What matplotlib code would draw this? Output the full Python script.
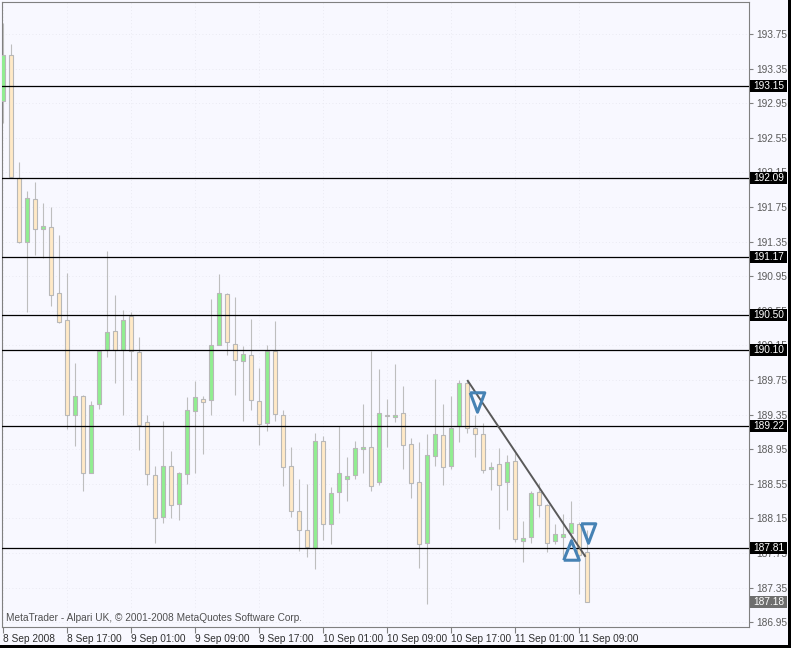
import matplotlib
matplotlib.use('Agg')
import matplotlib.pyplot as plt
from matplotlib.patches import Rectangle

plt.rcParams['font.family'] = ['Liberation Sans', 'DejaVu Sans']

# hourly GBPJPY-like bars, 8 Sep 2008 09:00 .. 11 Sep 2008 10:00
opens = [192.97, 193.51, 192.08, 191.35, 191.84, 191.50, 191.52, 190.75, 190.44, 189.34,
         189.57, 188.68, 189.47, 190.10, 190.32, 190.10, 190.49, 190.07, 189.26, 188.65,
         188.16, 188.76, 188.32, 188.66, 189.39, 189.53, 189.52, 190.16, 190.74, 190.17,
         189.97, 190.04, 189.51, 189.25, 190.09, 189.34, 188.75, 188.24, 188.01, 187.81,
         189.05, 188.09, 188.45, 188.60, 188.65, 188.95, 188.98, 188.57, 189.35, 189.32,
         189.37, 189.01, 188.57, 187.86, 188.87, 189.11, 188.75, 189.22, 189.71, 189.20,
         189.12, 188.72, 188.78, 188.57, 188.81, 187.89, 187.93, 188.45, 188.31, 187.89,
         187.93, 187.98, 188.09, 187.76]
highs = [193.88, 193.63, 192.27, 191.93, 192.04, 191.80, 191.75, 191.43, 190.99, 189.95,
         189.58, 189.51, 190.10, 191.24, 190.73, 190.56, 190.54, 190.25, 189.35, 188.76,
         189.27, 188.93, 188.69, 189.55, 189.74, 189.56, 190.69, 190.98, 190.76, 190.71,
         190.14, 190.46, 189.89, 190.15, 190.43, 189.40, 188.98, 188.61, 188.55, 189.14,
         189.10, 188.51, 189.22, 188.86, 189.05, 189.47, 190.09, 189.88, 189.53, 189.94,
         189.68, 189.08, 189.03, 189.13, 189.76, 189.47, 189.56, 189.75, 189.74, 189.35,
         189.25, 188.80, 188.96, 188.88, 188.91, 188.12, 188.47, 188.56, 188.32, 188.08,
         188.20, 188.35, 188.11, 188.01]
lows = [192.72, 192.08, 191.33, 190.54, 191.20, 191.16, 190.61, 190.41, 189.18, 188.99,
        188.47, 188.67, 189.42, 190.01, 189.71, 189.34, 189.75, 188.94, 188.53, 187.87,
        188.10, 188.15, 188.13, 188.55, 188.68, 188.89, 189.35, 190.15, 190.04, 189.58,
        189.27, 189.40, 189.00, 189.16, 189.27, 188.52, 188.16, 187.77, 187.70, 187.56,
        187.90, 187.85, 188.21, 188.35, 188.61, 188.67, 188.47, 188.54, 188.97, 189.26,
        188.72, 188.39, 187.58, 187.16, 188.75, 188.54, 188.72, 189.03, 189.14, 188.86,
        188.67, 188.48, 188.03, 188.25, 187.88, 187.64, 187.86, 188.16, 187.76, 187.85,
        187.68, 187.90, 187.27, 187.18]
closes = [193.51, 192.10, 191.34, 191.85, 191.50, 191.53, 190.73, 190.42, 189.35, 189.57,
          188.68, 189.46, 190.09, 190.31, 190.10, 190.44, 190.09, 189.23, 188.66, 188.15,
          188.75, 188.31, 188.67, 189.40, 189.55, 189.49, 190.16, 190.75, 190.19, 189.98,
          190.05, 189.52, 189.24, 190.09, 189.36, 188.74, 188.23, 188.02, 187.82, 189.05,
          188.08, 188.44, 188.68, 188.64, 188.96, 188.98, 188.52, 189.37, 189.33, 189.35,
          189.00, 188.56, 187.85, 188.88, 189.12, 188.74, 189.20, 189.72, 189.19, 189.13,
          188.71, 188.74, 188.53, 188.80, 187.91, 187.92, 188.44, 188.31, 187.87, 187.97,
          187.97, 188.10, 187.73, 187.18]

time_ticks = [0, 8, 16, 24, 32, 40, 48, 56, 64, 72]
time_labels = ['8 Sep 2008', '8 Sep 17:00', '9 Sep 01:00', '9 Sep 09:00', '9 Sep 17:00',
               '10 Sep 01:00', '10 Sep 09:00', '10 Sep 17:00', '11 Sep 01:00', '11 Sep 09:00']
price_ticks = [186.95, 187.35, 187.75, 188.15, 188.55, 188.95, 189.35, 189.75, 190.15,
               190.55, 190.95, 191.35, 191.75, 192.15, 192.55, 192.95, 193.35, 193.75]

levels = [193.15, 192.09, 191.17, 190.50, 190.10, 189.22, 187.81]
last_price = 187.18

trend_x = [58.1, 72.75]
trend_y = [189.74, 187.715]
sell_x = [59.25, 73.1]
sell_y = [189.50, 187.98]
buy_x = [71.0]
buy_y = [187.785]

BG = '#F8F8FF'
fig = plt.figure(figsize=(7.91, 6.48), dpi=100, facecolor=BG)
ax = fig.add_axes([2 / 791, 21 / 648, 747 / 791, 625 / 648])
ax.set_facecolor(BG)

x = list(range(len(opens)))
body_col = ['#90EE90' if c >= o else '#FFE9C6' for o, c in zip(opens, closes)]
bottoms = [min(o, c) for o, c in zip(opens, closes)]
heights = [abs(c - o) for o, c in zip(opens, closes)]

ax.vlines(x, lows, highs, color='#BEBEBE', linewidth=0.8, zorder=2)
ax.bar(x, heights, bottom=bottoms, width=0.5, color=body_col,
       edgecolor='#B8B8B8', linewidth=0.8, zorder=3)

for lv in levels:
    ax.axhline(lv, color='black', linewidth=0.9, zorder=4)

ax.plot(trend_x, trend_y, color='#5A5A5A', linewidth=1.4, zorder=5)

down_tri = [(-0.75, 1), (0.75, 1), (0, -1), (-0.75, 1)]
up_tri = [(-0.8, -1), (0.8, -1), (0, 1), (-0.8, -1)]
ax.plot(sell_x, sell_y, linestyle='none', marker=down_tri, markersize=14,
        markerfacecolor='none', markeredgecolor='#4682B4', markeredgewidth=2.2, zorder=6)
ax.plot(buy_x, buy_y, linestyle='none', marker=up_tri, markersize=14,
        markerfacecolor='none', markeredgecolor='#4682B4', markeredgewidth=2.2, zorder=6)

ax.set_xlim(-0.125, 93.25)
ax.set_ylim(186.894, 194.12)

ax.set_xticks(time_ticks)
ax.set_xticklabels(time_labels, ha='left')
ax.yaxis.tick_right()
ax.set_yticks(price_ticks)
ax.set_yticklabels(['%.2f' % p for p in price_ticks])
ax.tick_params(axis='x', direction='out', length=4, width=0.8, colors='#808080',
               labelcolor='#303030', labelsize=7.3, pad=1)
ax.tick_params(axis='y', direction='out', length=3, width=0.8, colors='#808080',
               labelcolor='#5A5A5A', labelsize=7.3, pad=2)

ax.grid(True, color='#E6E6EE', linestyle=(0, (1, 3)), linewidth=0.6, zorder=0)
for sp in ax.spines.values():
    sp.set_color('#808080')
    sp.set_linewidth(0.8)

# price label boxes on the right scale
trans = ax.get_yaxis_transform()
bw = 37 / 747
bh = 12 / 86.5
for lv in levels:
    ax.add_patch(Rectangle((1.0013, lv - bh / 2), bw, bh, transform=trans,
                           facecolor='black', edgecolor='none', clip_on=False, zorder=10))
    ax.text(1.0013 + bw / 2, lv, '%.2f' % lv, transform=trans, ha='center', va='center',
            color='white', fontsize=7.3, clip_on=False, zorder=11)
ax.add_patch(Rectangle((1.0013, last_price - bh / 2), bw, bh, transform=trans,
                       facecolor='#6E6E6E', edgecolor='none', clip_on=False, zorder=10))
ax.text(1.0013 + bw / 2, last_price, '%.2f' % last_price, transform=trans, ha='center',
        va='center', color='white', fontsize=7.3, clip_on=False, zorder=11)

ax.text(0.005, 0.006, 'MetaTrader - Alpari UK, \u00a9 2001-2008 MetaQuotes Software Corp.',
        transform=ax.transAxes, ha='left', va='bottom', fontsize=7.3, color='#505050', zorder=7)

# black frame strips at right and bottom edges
fig.patches.append(Rectangle((788 / 791, 0), 3 / 791, 1, transform=fig.transFigure,
                             facecolor='black', edgecolor='none'))
fig.patches.append(Rectangle((0, 0), 1, 3 / 648, transform=fig.transFigure,
                             facecolor='black', edgecolor='none'))

fig.savefig('out.png', dpi=100, facecolor=BG)
